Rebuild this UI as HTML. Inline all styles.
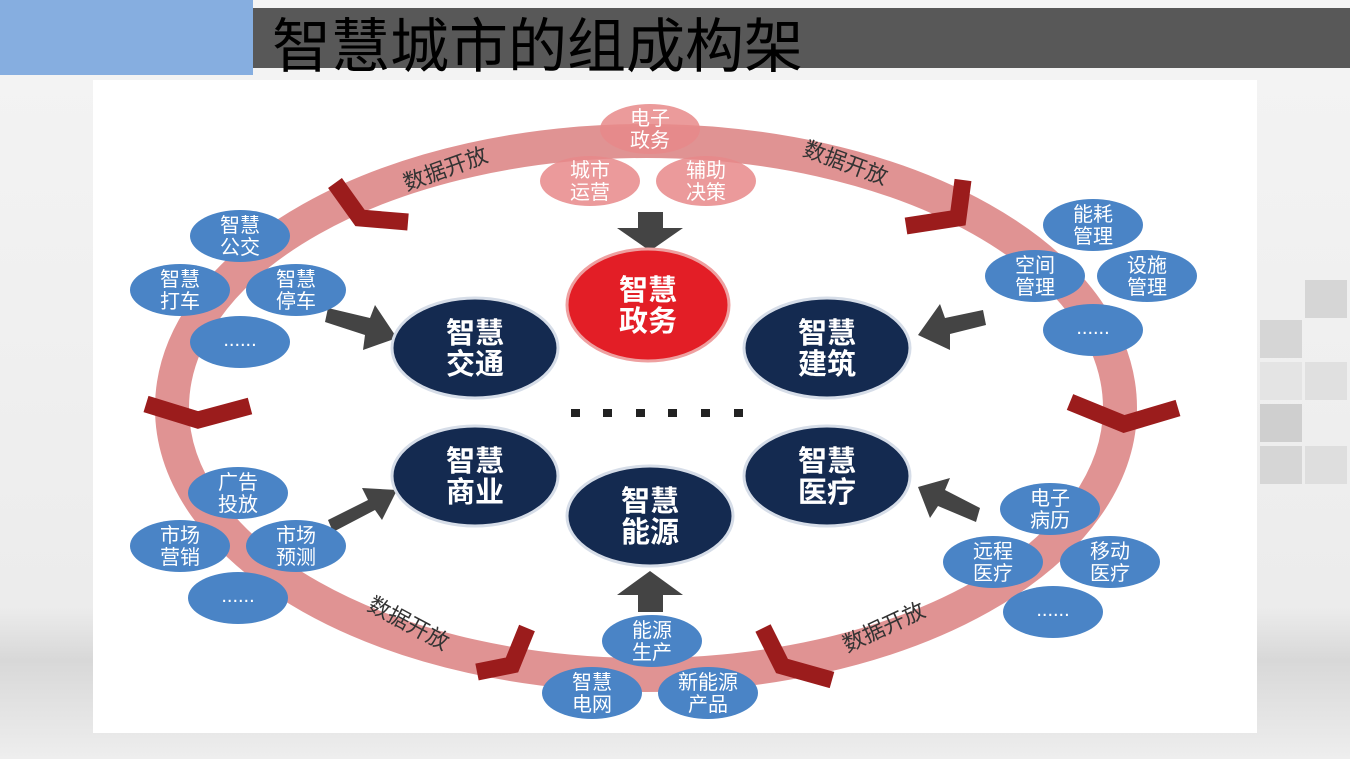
<!DOCTYPE html>
<html><head><meta charset="utf-8"><style>
html,body{margin:0;padding:0;}
body{width:1350px;height:759px;overflow:hidden;position:relative;background:linear-gradient(#f4f4f4 0%,#ececec 80%,#d8d8d8 87%,#eeeeee 100%);font-family:"Liberation Sans","Noto Sans CJK SC",sans-serif;}
</style></head><body>
<svg width="1350" height="759" style="position:absolute;left:0;top:0" font-family="Liberation Sans, Noto Sans CJK SC, sans-serif">
<g fill="#d6d6d6">
<rect x="1305" y="280" width="42" height="38"/><rect x="1260" y="320" width="42" height="38"/>
<rect x="1260" y="362" width="42" height="38" fill="#e4e4e4"/><rect x="1305" y="362" width="42" height="38" fill="#e0e0e0"/>
<rect x="1260" y="404" width="42" height="38" fill="#cfcfcf"/><rect x="1260" y="446" width="42" height="38"/><rect x="1305" y="446" width="42" height="38" fill="#dedede"/>
</g>
<rect x="93" y="80" width="1164" height="653" fill="#ffffff"/>
<rect x="0" y="0" width="253" height="75" fill="#86aee0"/>
<rect x="253" y="8" width="1097" height="60" fill="#585858"/>
<text x="272" y="67" font-size="59" fill="#000">智慧城市的组成构架</text>
<ellipse cx="646" cy="408" rx="474" ry="267" fill="none" stroke="#e09393" stroke-width="34"/>
<g fill="none" stroke="#9b1c1c" stroke-width="17" stroke-linejoin="miter">
<polyline points="335,183 360,218 408,222"/>
<polyline points="963,180 958,218 906,226"/>
<polyline points="146,404 198,420 250,406"/>
<polyline points="1070,402 1124,424 1178,408"/>
<polyline points="527,628 512,665 477,672"/>
<polyline points="763,628 782,666 832,680"/>
</g>
<g font-size="22" fill="#333">
<text transform="translate(448,176) rotate(-20)" text-anchor="middle">数据开放</text>
<text transform="translate(843,170) rotate(20)" text-anchor="middle">数据开放</text>
<text transform="translate(405,630) rotate(28)" text-anchor="middle">数据开放</text>
<text transform="translate(887,634) rotate(-25)" text-anchor="middle">数据开放</text>
</g>
<g fill="#e8898a" opacity="0.85">
<ellipse cx="650" cy="129" rx="50" ry="25"/><ellipse cx="590" cy="181" rx="50" ry="25"/><ellipse cx="706" cy="181" rx="50" ry="25"/>
</g>
<g fill="#fff" font-size="20" text-anchor="middle">
<text x="650" y="125">电子</text><text x="650" y="147">政务</text>
<text x="590" y="177">城市</text><text x="590" y="199">运营</text>
<text x="706" y="177">辅助</text><text x="706" y="199">决策</text>
</g>
<g fill="#444">
<polygon points="638,212 663,212 663,228 683,228 650,251 617,228 638,228"/>
<polygon points="638,612 663,612 663,595 683,595 650,571 617,595 638,595"/>
<polygon points="328,308 370,318 375,305 397,338 363,350 365,335 325,322"/>
<polygon points="328,520 368,500 362,488 397,490 382,520 375,510 333,532"/>
<polygon points="983,310 945,318 940,304 918,335 950,350 950,334 986,325"/>
<polygon points="980,508 945,490 950,478 918,487 930,518 938,506 976,522"/>
</g>
<g fill="#4a84c6">
<ellipse cx="240" cy="236" rx="50" ry="26"/><ellipse cx="180" cy="290" rx="50" ry="26"/><ellipse cx="296" cy="290" rx="50" ry="26"/><ellipse cx="240" cy="342" rx="50" ry="26"/>
<ellipse cx="1093" cy="225" rx="50" ry="26"/><ellipse cx="1035" cy="276" rx="50" ry="26"/><ellipse cx="1147" cy="276" rx="50" ry="26"/><ellipse cx="1093" cy="330" rx="50" ry="26"/>
<ellipse cx="238" cy="493" rx="50" ry="26"/><ellipse cx="180" cy="546" rx="50" ry="26"/><ellipse cx="296" cy="546" rx="50" ry="26"/><ellipse cx="238" cy="598" rx="50" ry="26"/>
<ellipse cx="1050" cy="509" rx="50" ry="26"/><ellipse cx="993" cy="562" rx="50" ry="26"/><ellipse cx="1110" cy="562" rx="50" ry="26"/><ellipse cx="1053" cy="612" rx="50" ry="26"/>
<ellipse cx="652" cy="641" rx="50" ry="26"/><ellipse cx="592" cy="693" rx="50" ry="26"/><ellipse cx="708" cy="693" rx="50" ry="26"/>
</g>
<g fill="#fff" font-size="20" text-anchor="middle">
<text x="240" y="232">智慧</text><text x="240" y="254">公交</text>
<text x="180" y="286">智慧</text><text x="180" y="308">打车</text>
<text x="296" y="286">智慧</text><text x="296" y="308">停车</text>
<text x="240" y="346">......</text>
<text x="1093" y="221">能耗</text><text x="1093" y="243">管理</text>
<text x="1035" y="272">空间</text><text x="1035" y="294">管理</text>
<text x="1147" y="272">设施</text><text x="1147" y="294">管理</text>
<text x="1093" y="334">......</text>
<text x="238" y="489">广告</text><text x="238" y="511">投放</text>
<text x="180" y="542">市场</text><text x="180" y="564">营销</text>
<text x="296" y="542">市场</text><text x="296" y="564">预测</text>
<text x="238" y="602">......</text>
<text x="1050" y="505">电子</text><text x="1050" y="527">病历</text>
<text x="993" y="558">远程</text><text x="993" y="580">医疗</text>
<text x="1110" y="558">移动</text><text x="1110" y="580">医疗</text>
<text x="1053" y="616">......</text>
<text x="652" y="637">能源</text><text x="652" y="659">生产</text>
<text x="592" y="689">智慧</text><text x="592" y="711">电网</text>
<text x="708" y="689">新能源</text><text x="708" y="711">产品</text>
</g>
<g stroke="#d6dde8" stroke-width="3">
<ellipse cx="648" cy="305" rx="81" ry="56" fill="#e31e26" stroke="#eea0a0"/>
<ellipse cx="475" cy="348" rx="83" ry="50" fill="#142a50"/>
<ellipse cx="827" cy="348" rx="83" ry="50" fill="#142a50"/>
<ellipse cx="475" cy="476" rx="83" ry="50" fill="#142a50"/>
<ellipse cx="827" cy="476" rx="83" ry="50" fill="#142a50"/>
<ellipse cx="650" cy="516" rx="83" ry="50" fill="#142a50"/>
</g>
<g fill="#fff" font-size="29" font-weight="bold" text-anchor="middle">
<text x="648" y="300">智慧</text><text x="648" y="331">政务</text>
<text x="475" y="343">智慧</text><text x="475" y="374">交通</text>
<text x="827" y="343">智慧</text><text x="827" y="374">建筑</text>
<text x="475" y="471">智慧</text><text x="475" y="502">商业</text>
<text x="827" y="471">智慧</text><text x="827" y="502">医疗</text>
<text x="650" y="511">智慧</text><text x="650" y="542">能源</text>
</g>
<g fill="#222">
<rect x="571" y="409" width="9" height="8"/><rect x="603" y="409" width="9" height="8"/><rect x="636" y="409" width="9" height="8"/><rect x="668" y="409" width="9" height="8"/><rect x="701" y="409" width="9" height="8"/><rect x="734" y="409" width="9" height="8"/>
</g>
</svg>
</body></html>
